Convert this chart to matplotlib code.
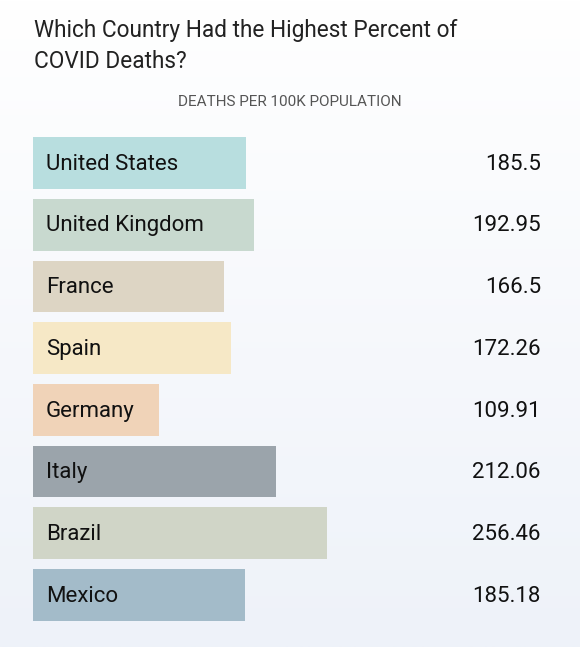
import numpy as np
import matplotlib
matplotlib.use("Agg")
import matplotlib.pyplot as plt
from matplotlib import font_manager

countries = ["United States", "United Kingdom", "France", "Spain",
             "Germany", "Italy", "Brazil", "Mexico"]
deaths = [185.5, 192.95, 166.5, 172.26, 109.91, 212.06, 256.46, 185.18]
value_labels = ["185.5", "192.95", "166.5", "172.26", "109.91", "212.06", "256.46", "185.18"]
colors = ["#b8dedf", "#c8d9cf", "#ddd5c4", "#f6e8c6",
          "#f0d3b8", "#9ba4ab", "#d0d5c7", "#a3bbc9"]

names = {f.name for f in font_manager.fontManager.ttflist}
fam = [f for f in ["Liberation Sans Narrow", "Roboto", "DejaVu Sans"] if f in names]
plt.rcParams["font.family"] = fam

fig = plt.figure(figsize=(5.8, 6.47), dpi=100)
ax = fig.add_axes([0, 0, 1, 1])

# background gradient
grad = np.linspace(0, 1, 256).reshape(-1, 1)
top = np.array([1.0, 1.0, 1.0])
bot = np.array([0xee, 0xf2, 0xf9]) / 255
img = top + (bot - top) * grad[..., None]
ax.imshow(img, extent=[-40, 500, 7.844, -2.642], aspect="auto", zorder=0)

y = np.arange(len(countries))
ax.barh(y, deaths, height=0.84, color=colors, zorder=2)

for i, (c, lab) in enumerate(zip(countries, value_labels)):
    ax.text(11.3, i + 0.02, c, va="center", ha="left", fontsize=16, color="#111111", zorder=3)
    ax.text((541 - 33) / 1.147, i + 0.02, lab, va="center", ha="right", fontsize=16,
            color="#111111", zorder=3)

ax.set_xlim(-33 / 1.147, (580 - 33) / 1.147)
ax.set_ylim(7.844, -2.642)
ax.axis("off")

fig.text(34 / 580, 1 - 31 / 647, "Which Country Had the Highest Percent of",
         fontsize=16.3, color="#222222", va="center", ha="left")
fig.text(34 / 580, 1 - 62 / 647, "COVID Deaths?",
         fontsize=16.3, color="#222222", va="center", ha="left")
fig.text(290 / 580, 1 - 102 / 647, "DEATHS PER 100K POPULATION",
         fontsize=11, color="#555555", va="center", ha="center")

fig.savefig("out.png", dpi=100)
